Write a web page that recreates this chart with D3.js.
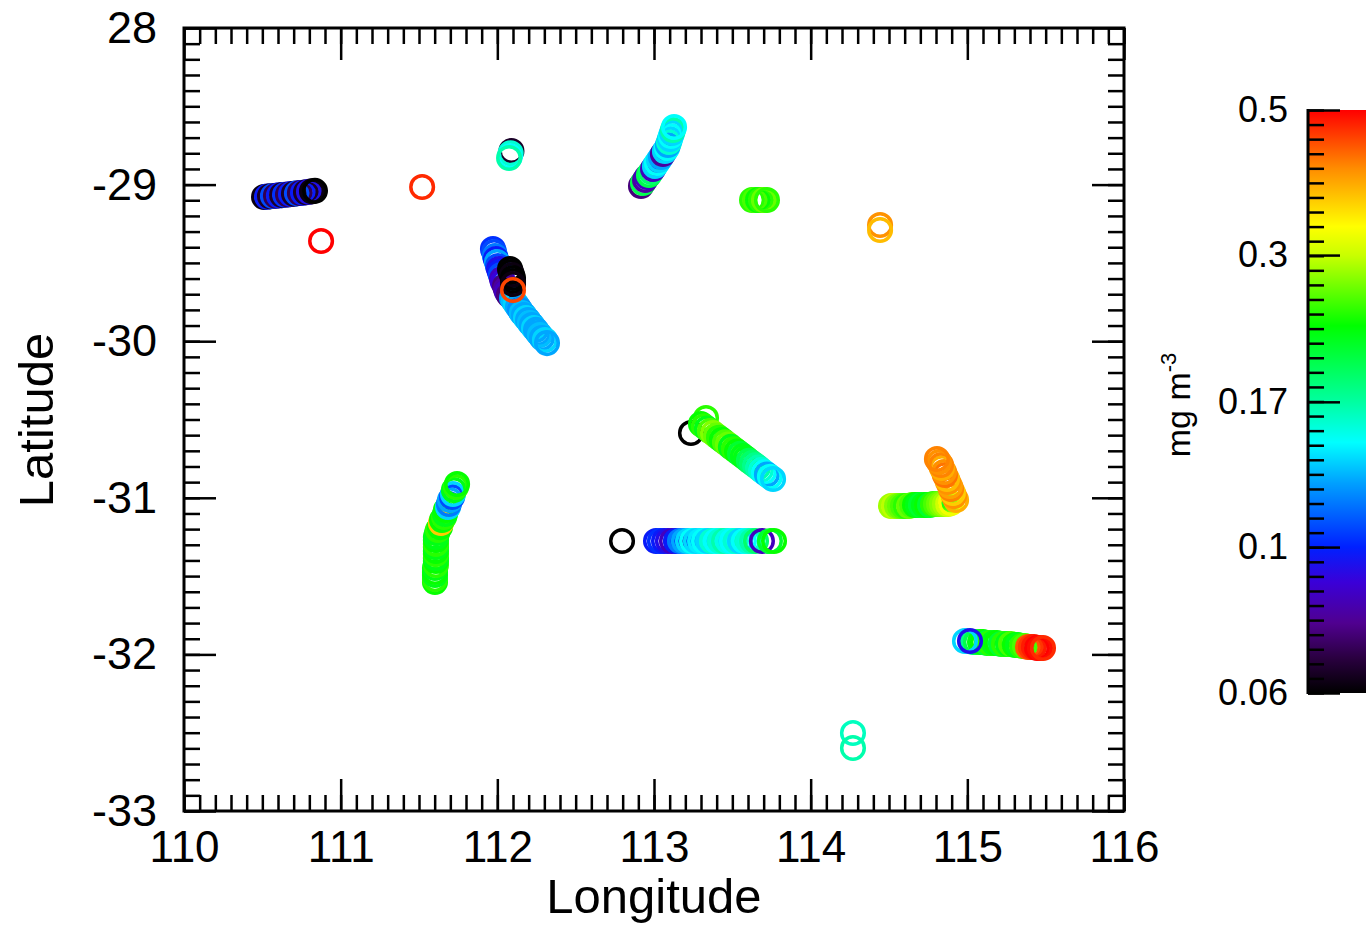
<!DOCTYPE html>
<html lang="en">
<head>
<meta charset="UTF-8" />
<title>Chlorophyll along ship tracks</title>
<style>
  body { margin: 0; background: #fff; }
  svg { display: block; }
  text { font-family: "Liberation Sans", Arial, Helvetica, sans-serif; fill: #000; }
</style>
</head>
<body>
<div id="viz"></div>
<script src="https://cdnjs.cloudflare.com/ajax/libs/d3/7.8.5/d3.min.js"></script>
<script>
// samples in drawing order: longitude, latitude, chlorophyll (mg m-3)
const lon = [
  // western dark track
  110.511, 110.530, 110.549, 110.568, 110.587, 110.606, 110.626, 110.645, 110.664,
  110.683, 110.702, 110.721, 110.740, 110.760, 110.779, 110.798, 110.817, 110.836,
  // single red samples
  110.875, 111.520,
  // small cluster near 112.1
  112.090, 112.085, 112.080, 112.075,
  // track near 112, -29.6: blue part
  111.972, 111.979, 111.985, 111.991, 111.998, 112.004, 112.011, 112.017, 112.023, 112.030,
  112.036, 112.049, 112.055, 112.062, 112.074,
  // cyan part
  112.094, 112.106, 112.119, 112.132, 112.145, 112.157, 112.170, 112.183, 112.196,
  112.208, 112.221, 112.234, 112.247, 112.260, 112.272, 112.285, 112.304, 112.317,
  // dark samples and the red one
  112.081, 112.087, 112.094, 112.100, 112.100, 112.100, 112.100,
  // track near 113, -28.8
  112.917, 112.930, 112.943, 112.955, 112.968, 112.981, 112.994, 113.006, 113.019, 113.032, 113.045,
  113.057, 113.070, 113.083, 113.089, 113.096, 113.102, 113.108, 113.115, 113.121, 113.128,
  // green cluster
  113.626, 113.645, 113.664, 113.683, 113.702, 113.721,
  // orange pair
  114.443, 114.443,
  // diagonal track near 113.5, -30.7
  113.236, 113.332,
  113.300, 113.319, 113.338, 113.357, 113.377, 113.396, 113.415, 113.434, 113.453, 113.472, 113.491, 113.511,
  113.530, 113.549, 113.568, 113.587, 113.606, 113.626, 113.645, 113.664, 113.683, 113.702, 113.721, 113.740, 113.760,
  // zonal track at -31.28
  112.796,
  113.013, 113.038, 113.064, 113.089, 113.115, 113.140, 113.166, 113.191, 113.217, 113.243, 113.268, 113.294,
  113.319, 113.345, 113.370, 113.396, 113.421, 113.447, 113.472, 113.498, 113.523, 113.549, 113.574, 113.600,
  113.626, 113.651, 113.689, 113.740, 113.766,
  // track near 111.7, -31.2 (south to north)
  111.602, 111.602, 111.602, 111.602, 111.602, 111.608, 111.608, 111.608, 111.608, 111.608, 111.608, 111.608, 111.608, 111.608,
  111.615, 111.621, 111.634, 111.640, 111.647, 111.660, 111.666, 111.672, 111.685, 111.691, 111.698, 111.711, 111.717, 111.723,
  111.736, 111.743,
  // L-shaped track near 114.8, -31: green leg
  114.513, 114.532, 114.551, 114.570, 114.589, 114.608, 114.628, 114.647, 114.666, 114.685, 114.704,
  114.723, 114.743, 114.762, 114.781, 114.800, 114.819, 114.838, 114.857, 114.877, 114.896,
  // orange leg
  114.928, 114.915, 114.908, 114.896, 114.889, 114.877, 114.870, 114.857, 114.851, 114.838, 114.832, 114.819, 114.806,
  // zonal track at -31.93
  115.036, 115.055, 115.081, 115.100, 115.125, 115.145, 115.170, 115.189, 115.215, 115.234, 115.260, 115.279,
  115.304, 115.323, 115.349, 115.368,
  115.387, 115.406, 115.425, 115.445, 115.464, 115.483,
  114.985, 115.017,
  // teal pair
  114.270, 114.270
];
const lat = [
  -29.079, -29.077, -29.075, -29.073, -29.071, -29.069, -29.067, -29.065, -29.063,
  -29.060, -29.058, -29.056, -29.054, -29.052, -29.049, -29.046, -29.043, -29.040,
  -29.360, -29.015,
  -28.785, -28.800, -28.820, -28.830,
  -29.411, -29.430, -29.456, -29.475, -29.494, -29.520, -29.539, -29.558, -29.577, -29.603,
  -29.622, -29.648, -29.667, -29.686, -29.705,
  -29.724, -29.743, -29.762, -29.782, -29.801, -29.820, -29.833, -29.852, -29.865,
  -29.884, -29.897, -29.916, -29.928, -29.948, -29.960, -29.980, -29.992, -30.012,
  -29.539, -29.558, -29.577, -29.596, -29.616, -29.635, -29.673,
  -29.009, -28.990, -28.971, -28.951, -28.939, -28.920, -28.900, -28.881, -28.862, -28.843, -28.824,
  -28.805, -28.785, -28.766, -28.747, -28.728, -28.709, -28.690, -28.670, -28.651, -28.632,
  -29.098, -29.098, -29.098, -29.098, -29.098, -29.098,
  -29.258, -29.290,
  -30.586, -30.490,
  -30.529, -30.543, -30.558, -30.573, -30.587, -30.602, -30.617, -30.631, -30.646, -30.660, -30.675, -30.690,
  -30.704, -30.719, -30.734, -30.748, -30.763, -30.778, -30.792, -30.807, -30.822, -30.837, -30.851, -30.866, -30.880,
  -31.276,
  -31.276, -31.276, -31.276, -31.276, -31.276, -31.276, -31.276, -31.276, -31.276, -31.276, -31.276, -31.276,
  -31.276, -31.276, -31.276, -31.276, -31.276, -31.276, -31.276, -31.276, -31.276, -31.276, -31.276, -31.276,
  -31.276, -31.276, -31.276, -31.276, -31.276,
  -31.538, -31.519, -31.493, -31.474, -31.448, -31.429, -31.404, -31.384, -31.359, -31.340, -31.314, -31.295, -31.269, -31.250,
  -31.225, -31.206, -31.187, -31.161, -31.142, -31.123, -31.103, -31.078, -31.059, -31.040, -31.014, -30.995, -30.976, -30.950,
  -30.931, -30.912,
  -31.052, -31.052, -31.052, -31.052, -31.052, -31.052, -31.052, -31.046, -31.046, -31.046, -31.046,
  -31.046, -31.046, -31.046, -31.040, -31.040, -31.040, -31.040, -31.040, -31.040, -31.033,
  -31.014, -30.989, -30.969, -30.944, -30.925, -30.899, -30.880, -30.854, -30.835, -30.810, -30.791, -30.771, -30.752,
  -31.921, -31.921, -31.921, -31.921, -31.927, -31.927, -31.927, -31.927, -31.934, -31.934, -31.934, -31.934,
  -31.940, -31.940, -31.946, -31.946,
  -31.953, -31.953, -31.953, -31.959, -31.959, -31.959,
  -31.914, -31.914,
  -32.502, -32.598
];
const chl = [
  0.062, 0.10, 0.065, 0.11, 0.07, 0.10, 0.065, 0.105, 0.07,
  0.10, 0.065, 0.11, 0.07, 0.10, 0.065, 0.095, 0.062, 0.06,
  0.50, 0.47,
  0.065, 0.16, 0.15, 0.17,
  0.105, 0.11, 0.12, 0.10, 0.13, 0.11, 0.095, 0.10, 0.11, 0.085,
  0.09, 0.075, 0.08, 0.085, 0.075,
  0.13, 0.135, 0.14, 0.13, 0.125, 0.135, 0.13, 0.14, 0.13,
  0.135, 0.13, 0.14, 0.13, 0.13, 0.135, 0.13, 0.14, 0.13,
  0.06, 0.06, 0.062, 0.06, 0.06, 0.062, 0.45,
  0.075, 0.20, 0.08, 0.085, 0.20, 0.19, 0.085, 0.14, 0.15, 0.14, 0.13,
  0.08, 0.14, 0.15, 0.13, 0.16, 0.14, 0.15, 0.14, 0.17, 0.15,
  0.24, 0.25, 0.23, 0.24, 0.26, 0.24,
  0.40, 0.37,
  0.06, 0.24,
  0.23, 0.24, 0.22, 0.25, 0.27, 0.26, 0.24, 0.23, 0.25, 0.26, 0.22, 0.24,
  0.23, 0.21, 0.22, 0.22, 0.20, 0.19, 0.18, 0.17, 0.16, 0.15, 0.13, 0.15, 0.14,
  0.06,
  0.10, 0.105, 0.10, 0.095, 0.085, 0.10, 0.12, 0.13, 0.14, 0.15, 0.14, 0.145,
  0.15, 0.14, 0.16, 0.15, 0.16, 0.17, 0.155, 0.15, 0.16, 0.14, 0.15, 0.16,
  0.17, 0.19, 0.085, 0.21, 0.23,
  0.23, 0.24, 0.22, 0.23, 0.22, 0.24, 0.23, 0.22, 0.24, 0.23, 0.22, 0.24, 0.23, 0.22,
  0.22, 0.24, 0.23, 0.36, 0.23, 0.24, 0.22, 0.23, 0.14, 0.12, 0.13, 0.11, 0.14, 0.22,
  0.24, 0.23,
  0.28, 0.29, 0.27, 0.26, 0.25, 0.24, 0.26, 0.25, 0.23, 0.22, 0.21,
  0.22, 0.23, 0.21, 0.24, 0.25, 0.26, 0.27, 0.28, 0.30, 0.32,
  0.38, 0.40, 0.36, 0.41, 0.39, 0.40, 0.37, 0.42, 0.40, 0.38, 0.41, 0.40, 0.41,
  0.18, 0.20, 0.22, 0.23, 0.21, 0.24, 0.22, 0.23, 0.21, 0.24, 0.22, 0.25,
  0.23, 0.22, 0.24, 0.25,
  0.44, 0.46, 0.48, 0.50, 0.49, 0.47,
  0.14, 0.095,
  0.165, 0.17
];

const xTicks = [110, 111, 112, 113, 114, 115, 116];
const yTicks = [-33, -32, -31, -30, -29, -28];
const yTickLabels = ["-33", "-32", "-31", "-30", "-29", "28"];
const cbTicks = [0.06, 0.102, 0.173, 0.295, 0.5];
const cbTickLabels = ["0.06", "0.1", "0.17", "0.3", "0.5"];
// rainbow colour table, position 0 = bottom of bar
const cmapPos = [0, 0.06, 0.12, 0.19, 0.25, 0.36, 0.43, 0.5, 0.63, 0.75, 0.8, 0.9, 1];
const cmapColors = ["#000000", "#2a0040", "#500090", "#3a00d8", "#0020ff", "#00a0ff", "#00ffff",
                    "#00ffa0", "#00ff00", "#c8ff00", "#ffff00", "#ff8c00", "#ff0000"];

const W = 1366, H = 925;
const pLeft = 184, pRight = 1124, pTop = 28, pBottom = 811;

const svg = d3.select("#viz").append("svg")
  .attr("width", W)
  .attr("height", H);

const x = d3.scaleLinear().domain([110, 116]).range([pLeft, pRight]);
const y = d3.scaleLinear().domain([-33, -28]).range([pBottom, pTop]);

const cb = d3.scaleLog().domain([0.06, 0.5]).range([693, 110]);
const tpos = d3.scaleLog().domain([0.06, 0.5]).range([0, 1]).clamp(true);
const cmap = d3.scaleLinear().domain(cmapPos).range(cmapColors);
const color = v => cmap(tpos(v));

// points
const pts = lon.map((d, i) => ({ lon: d, lat: lat[i], chl: chl[i] }));
svg.append("g")
  .selectAll("circle")
  .data(pts)
  .join("circle")
    .attr("cx", d => x(d.lon))
    .attr("cy", d => y(d.lat))
    .attr("r", 11.3)
    .attr("fill", "none")
    .attr("stroke", d => color(d.chl))
    .attr("stroke-width", 3.5);

// axes
const minorX = d3.range(0, 61).map(i => 110 + i / 10);
const minorY = d3.range(0, 51).map(i => -33 + i / 10);

function styleAxis(g) {
  g.select(".domain").remove();
  g.selectAll(".tick line").attr("stroke", "#000").attr("stroke-width", 2.5);
  g.attr("font-family", '"Liberation Sans", Arial, Helvetica, sans-serif');
}

svg.append("g").attr("transform", `translate(0,${pBottom})`)
  .call(d3.axisBottom(x).tickValues(minorX).tickSize(-16).tickFormat(""))
  .call(styleAxis);
svg.append("g").attr("transform", `translate(0,${pBottom})`)
  .call(d3.axisBottom(x).tickValues(xTicks).tickSize(-32).tickPadding(20).tickFormat(d => d))
  .call(styleAxis)
  .attr("font-size", 44);

svg.append("g").attr("transform", `translate(0,${pTop})`)
  .call(d3.axisTop(x).tickValues(minorX).tickSize(-16).tickFormat(""))
  .call(styleAxis);
svg.append("g").attr("transform", `translate(0,${pTop})`)
  .call(d3.axisTop(x).tickValues(xTicks).tickSize(-32).tickFormat(""))
  .call(styleAxis);

svg.append("g").attr("transform", `translate(${pLeft},0)`)
  .call(d3.axisLeft(y).tickValues(minorY).tickSize(-16).tickFormat(""))
  .call(styleAxis);
svg.append("g").attr("transform", `translate(${pLeft},0)`)
  .call(d3.axisLeft(y).tickValues(yTicks).tickSize(-32).tickPadding(27).tickFormat((d, i) => yTickLabels[i]))
  .call(styleAxis)
  .attr("font-size", 45);

svg.append("g").attr("transform", `translate(${pRight},0)`)
  .call(d3.axisRight(y).tickValues(minorY).tickSize(-16).tickFormat(""))
  .call(styleAxis);
svg.append("g").attr("transform", `translate(${pRight},0)`)
  .call(d3.axisRight(y).tickValues(yTicks).tickSize(-32).tickFormat(""))
  .call(styleAxis);

svg.append("rect")
  .attr("x", pLeft).attr("y", pTop)
  .attr("width", pRight - pLeft).attr("height", pBottom - pTop)
  .attr("fill", "none")
  .attr("stroke", "#000")
  .attr("stroke-width", 3);

// axis titles
svg.append("text")
  .attr("x", (pLeft + pRight) / 2)
  .attr("y", 913)
  .attr("text-anchor", "middle")
  .attr("font-size", 49)
  .text("Longitude");

svg.append("text")
  .attr("transform", "translate(53,420) rotate(-90)")
  .attr("text-anchor", "middle")
  .attr("font-size", 49)
  .text("Latitude");

// colour bar
const defs = svg.append("defs");
const grad = defs.append("linearGradient")
  .attr("id", "cbgrad")
  .attr("x1", 0).attr("y1", 1).attr("x2", 0).attr("y2", 0);
grad.selectAll("stop")
  .data(cmapPos)
  .join("stop")
    .attr("offset", d => d)
    .attr("stop-color", (d, i) => cmapColors[i]);

svg.append("rect")
  .attr("x", 1308).attr("y", cb(0.5))
  .attr("width", 70).attr("height", cb(0.06) - cb(0.5))
  .attr("fill", "url(#cbgrad)");

const cbMinor = d3.range(0, 41).map(i => cb.invert(693 - i * (693 - 110) / 40));

svg.append("g").attr("transform", "translate(1308,0)")
  .call(d3.axisLeft(cb).tickValues(cbMinor).tickSize(-16).tickFormat(""))
  .call(styleAxis);
svg.append("g").attr("transform", "translate(1308,0)")
  .call(d3.axisLeft(cb).tickValues(cbTicks).tickSize(-32).tickPadding(20).tickFormat((d, i) => cbTickLabels[i]))
  .call(styleAxis)
  .attr("font-size", 36);

svg.append("line")
  .attr("x1", 1308).attr("x2", 1308)
  .attr("y1", cb(0.5) - 1).attr("y2", cb(0.06) + 1)
  .attr("stroke", "#000")
  .attr("stroke-width", 3);

const unit = svg.append("text")
  .attr("transform", "translate(1190,405) rotate(-90)")
  .attr("text-anchor", "middle")
  .attr("font-size", 34);
unit.append("tspan").text("mg m");
unit.append("tspan").attr("font-size", 22).attr("dy", -14).text("-3");
</script>
</body>
</html>
